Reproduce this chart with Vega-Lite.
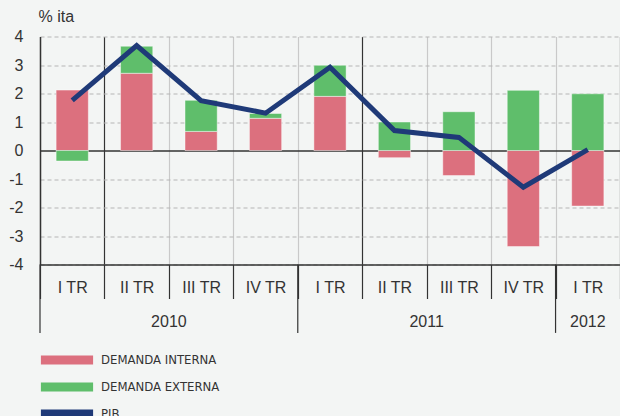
{
  "$schema": "https://vega.github.io/schema/vega-lite/v6.json",
  "width": 580,
  "height": 228,
  "autosize": "none",
  "padding": {"left": 40, "top": 36.5, "right": 0, "bottom": 151.5},
  "background": "#f3f5f4",
  "config": {
    "view": {"stroke": null},
    "font": "Liberation Sans",
    "axisY": {
      "titleAngle": 0, "titleAlign": "left", "titleBaseline": "middle",
      "titleX": -2, "titleY": -20, "titleFontSize": 16, "titleFontWeight": "normal", "titleColor": "#333333", "titleFont": "Liberation Sans",
      "domainColor": "#333333", "domainWidth": 1.5,
      "ticks": false,
      "labelFont": "Liberation Sans", "labelFontSize": 16, "labelColor": "#333333", "labelPadding": 17,
      "grid": true,
      "gridColor": {"condition": {"test": "datum.value === 0", "value": "#333333"}, "value": "#b5b5b5"},
      "gridDash": {"condition": {"test": "datum.value === 0", "value": []}, "value": [4, 3]},
      "gridWidth": {"condition": {"test": "datum.value === 0", "value": 1.3}, "value": 1}
    }
  },
  "datasets": {
    "bars": [
      {"q": "2010-I", "component": "DEMANDA INTERNA", "value": 2.12},
      {"q": "2010-I", "component": "DEMANDA EXTERNA", "value": -0.37},
      {"q": "2010-II", "component": "DEMANDA INTERNA", "value": 2.71},
      {"q": "2010-II", "component": "DEMANDA EXTERNA", "value": 0.95},
      {"q": "2010-III", "component": "DEMANDA INTERNA", "value": 0.67},
      {"q": "2010-III", "component": "DEMANDA EXTERNA", "value": 1.09},
      {"q": "2010-IV", "component": "DEMANDA INTERNA", "value": 1.13},
      {"q": "2010-IV", "component": "DEMANDA EXTERNA", "value": 0.17},
      {"q": "2011-I", "component": "DEMANDA INTERNA", "value": 1.9},
      {"q": "2011-I", "component": "DEMANDA EXTERNA", "value": 1.09},
      {"q": "2011-II", "component": "DEMANDA INTERNA", "value": -0.25},
      {"q": "2011-II", "component": "DEMANDA EXTERNA", "value": 1.0},
      {"q": "2011-III", "component": "DEMANDA INTERNA", "value": -0.88},
      {"q": "2011-III", "component": "DEMANDA EXTERNA", "value": 1.36},
      {"q": "2011-IV", "component": "DEMANDA INTERNA", "value": -3.37},
      {"q": "2011-IV", "component": "DEMANDA EXTERNA", "value": 2.11},
      {"q": "2012-I", "component": "DEMANDA INTERNA", "value": -1.95},
      {"q": "2012-I", "component": "DEMANDA EXTERNA", "value": 1.99}
    ],
    "pib": [
      {"q": "2010-I", "pib": 1.76},
      {"q": "2010-II", "pib": 3.68},
      {"q": "2010-III", "pib": 1.75},
      {"q": "2010-IV", "pib": 1.31},
      {"q": "2011-I", "pib": 2.92},
      {"q": "2011-II", "pib": 0.7},
      {"q": "2011-III", "pib": 0.46},
      {"q": "2011-IV", "pib": -1.29},
      {"q": "2012-I", "pib": 0.03}
    ],
    "years": [
      {"year": "2010", "start": "2010-I", "mid": "2010-III"},
      {"year": "2011", "start": "2011-I", "mid": "2011-III"},
      {"year": "2012", "start": "2012-I", "mid": "2012-I"}
    ]
  },
  "layer": [
    {
      "data": {"name": "bars"},
      "mark": {"type": "bar", "width": {"band": 0.5}, "stroke": "#ffffff", "strokeOpacity": 0.45, "strokeWidth": 1},
      "encoding": {
        "x": {
          "field": "q", "type": "nominal", "sort": null,
          "scale": {"domain": ["2010-I","2010-II","2010-III","2010-IV","2011-I","2011-II","2011-III","2011-IV","2012-I"], "paddingInner": 0, "paddingOuter": 0},
          "axis": {
            "title": null,
            "domainColor": "#333333", "domainWidth": 1.5,
            "tickBand": "extent", "tickSize": 34, "tickColor": "#333333", "tickWidth": 1.2,
            "labelExpr": "datum.value ? split(datum.value, '-')[1] + ' TR' : ''",
            "labelFont": "Liberation Sans", "labelFontSize": 16, "labelColor": "#333333",
            "labelPadding": -11.5, "labelBaseline": "middle", "labelAngle": 0, "labelOverlap": false,
            "grid": true,
            "gridColor": {"condition": {"test": "datum.value && split(datum.value, '-')[1] === 'I'", "value": "#333333"}, "value": "#c9c9c9"},
            "gridWidth": 1.2
          }
        },
        "y": {
          "field": "value", "type": "quantitative", "stack": "zero",
          "scale": {"domain": [-4, 4], "nice": false, "zero": false},
          "axis": {"title": "% ita", "values": [-4, -3, -2, -1, 0, 1, 2, 3, 4], "labelExpr": "datum.value + ''"}
        },
        "color": {
          "field": "component", "type": "nominal",
          "scale": {"domain": ["DEMANDA INTERNA", "DEMANDA EXTERNA", "PIB"], "range": ["#dc707e", "#5fbe6b", "#1f3a78"]},
          "legend": {
            "title": null, "orient": "none", "legendX": 20.5, "legendY": 317, "direction": "vertical", "padding": 0,
            "symbolType": "M-5.8,-1L5.8,-1L5.8,1L-5.8,1Z", "symbolSize": 81, "symbolStrokeWidth": 0,
            "labelFont": "DejaVu Sans Condensed, Liberation Sans", "labelFontSize": 13, "labelColor": "#333333", "labelOffset": 27.5, "rowPadding": 13
          }
        },
        "order": {"field": "component", "sort": "descending"}
      }
    },
    {
      "data": {"name": "pib"},
      "mark": {"type": "line", "strokeWidth": 5, "strokeJoin": "miter", "strokeCap": "butt"},
      "encoding": {
        "x": {"field": "q", "type": "nominal", "sort": null},
        "y": {"field": "pib", "type": "quantitative", "axis": {"title": "% ita", "values": [-4, -3, -2, -1, 0, 1, 2, 3, 4], "labelExpr": "datum.value + ''"}},
        "color": {"datum": "PIB"}
      }
    },
    {
      "data": {"name": "years"},
      "mark": {"type": "rule", "color": "#333333", "strokeWidth": 1.2},
      "encoding": {
        "x": {"field": "start", "type": "nominal", "bandPosition": 0},
        "y": {"datum": -4, "axis": {"title": "% ita", "values": [-4, -3, -2, -1, 0, 1, 2, 3, 4], "labelExpr": "datum.value + ''"}},
        "y2": {"datum": -6.4}
      }
    },
    {
      "data": {"name": "years"},
      "transform": [{"filter": "datum.year !== '2012'"}],
      "mark": {"type": "text", "fontSize": 16, "color": "#333333", "baseline": "middle", "align": "center", "font": "Liberation Sans"},
      "encoding": {
        "x": {"field": "mid", "type": "nominal", "bandPosition": 0},
        "y": {"datum": -6, "axis": {"title": "% ita", "values": [-4, -3, -2, -1, 0, 1, 2, 3, 4], "labelExpr": "datum.value + ''"}},
        "text": {"field": "year"}
      }
    },
    {
      "data": {"name": "years"},
      "transform": [{"filter": "datum.year === '2012'"}],
      "mark": {"type": "text", "fontSize": 16, "color": "#333333", "baseline": "middle", "align": "center", "font": "Liberation Sans"},
      "encoding": {
        "x": {"field": "mid", "type": "nominal", "bandPosition": 0.5},
        "y": {"datum": -6, "axis": {"title": "% ita", "values": [-4, -3, -2, -1, 0, 1, 2, 3, 4], "labelExpr": "datum.value + ''"}},
        "text": {"field": "year"}
      }
    }
  ]
}
